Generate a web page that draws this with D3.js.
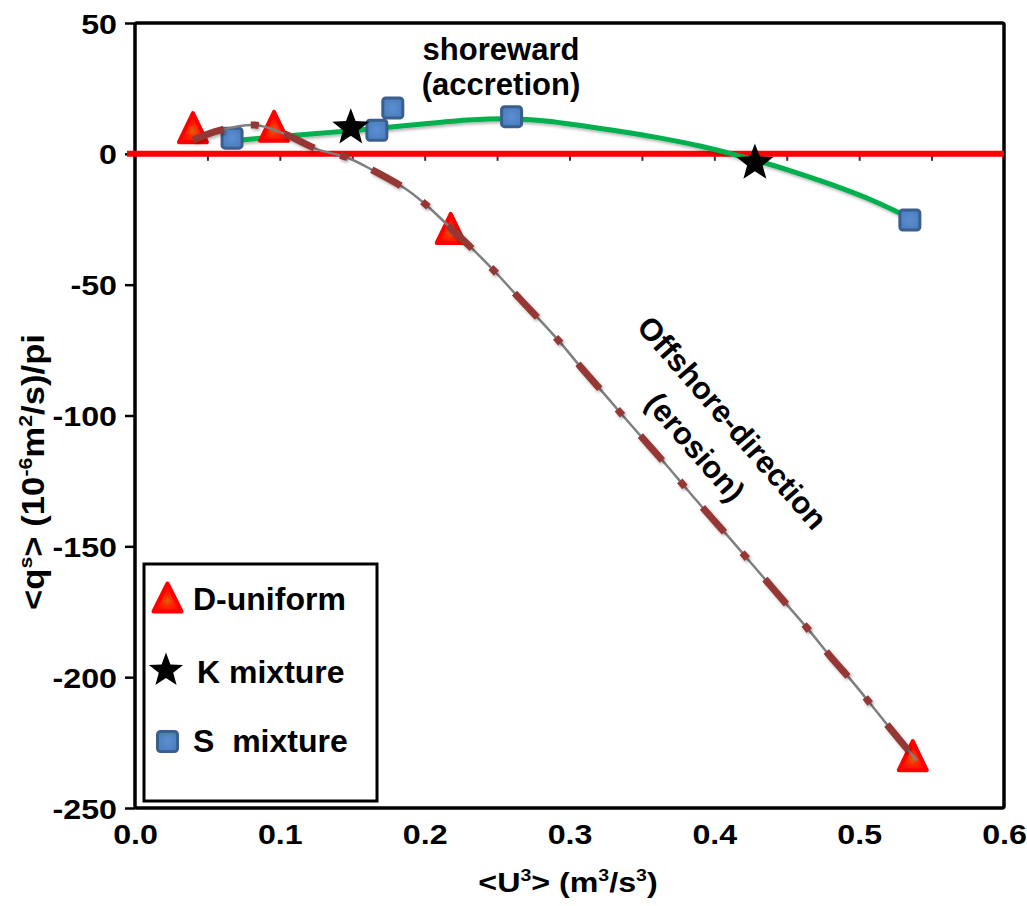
<!DOCTYPE html>
<html>
<head>
<meta charset="utf-8">
<script src="https://cdn.jsdelivr.net/npm/d3@7"></script>
<style>
  html, body { margin: 0; padding: 0; background: #ffffff; }
  text { font-family: "Liberation Sans", Arial, sans-serif; font-weight: bold; fill: #000; }
</style>
</head>
<body>
<script>
// ---- measured series ----
const dUniformX = [0.040, 0.096, 0.218, 0.537];
const dUniformY = [10.0, 10.5, -28.5, -230.0];

const kMixtureX = [0.149, 0.428];
const kMixtureY = [10.0, -3.5];

const sMixtureX = [0.067, 0.167, 0.178, 0.260, 0.535];
const sMixtureY = [6.0, 9.0, 17.5, 14.2, -25.3];

// fitted trend through the S-mixture runs (green)
const sTrendX = [0.067, 0.100, 0.135, 0.170, 0.204, 0.230, 0.255, 0.280, 0.300, 0.330, 0.360, 0.390, 0.420, 0.450, 0.480, 0.510, 0.535];
const sTrendY = [5.0, 6.6, 8.2, 9.9, 11.7, 12.9, 13.4, 12.7, 11.4, 9.0, 6.3, 3.0, -1.2, -6.0, -11.6, -18.0, -24.5];

// fitted trend through the D-uniform runs (dash-dot)
const dTrendX = [0.040, 0.059, 0.083, 0.102, 0.127, 0.146, 0.164, 0.188, 0.203, 0.220, 0.237, 0.251, 0.265, 0.282, 0.295, 0.307, 0.322, 0.336, 0.351, 0.367, 0.380, 0.394, 0.410, 0.424, 0.438, 0.452, 0.466, 0.480, 0.495, 0.509, 0.522, 0.540];
const dTrendY = [5.3, 9.1, 11.0, 7.9, 1.5, -1.3, -6.2, -13.8, -20.5, -29.5, -38.5, -46.5, -55.0, -65.0, -73.0, -81.0, -90.5, -99.5, -109.0, -119.0, -127.5, -136.5, -146.5, -155.5, -164.5, -173.5, -182.5, -192.0, -201.5, -211.0, -220.0, -232.0];

// axis ticks
const xLabelTicks = [0.0, 0.1, 0.2, 0.3, 0.4, 0.5, 0.6];
const xMinorTicks = [0.05, 0.1, 0.15, 0.2, 0.25, 0.3, 0.35, 0.4, 0.45, 0.5, 0.55];
const yTicks = [50, 0, -50, -100, -150, -200, -250];

const legendLabels = ["D-uniform", "K mixture", "S  mixture"];

// ---- layout ----
const W = 1027, H = 906;
const plotL = 135, plotR = 1004, plotT = 23, plotB = 808;
const wide = 1.15; // horizontal widening of axis lettering

const svg = d3.select("body").append("svg")
  .attr("width", W).attr("height", H);

const defs = svg.append("defs");
const grad = defs.append("radialGradient").attr("id", "triFill")
  .attr("cx", "50%").attr("cy", "62%").attr("r", "55%");
grad.append("stop").attr("offset", "0%").attr("stop-color", "#e0600c");
grad.append("stop").attr("offset", "40%").attr("stop-color", "#ff2400");
grad.append("stop").attr("offset", "100%").attr("stop-color", "#ff0000");

const sq = defs.append("radialGradient").attr("id", "sqFill")
  .attr("cx", "50%").attr("cy", "50%").attr("r", "60%");
sq.append("stop").attr("offset", "0%").attr("stop-color", "#5a8fd2");
sq.append("stop").attr("offset", "100%").attr("stop-color", "#4a7cbc");

const shadow = defs.append("filter").attr("id", "soft")
  .attr("x", "-10%").attr("y", "-10%").attr("width", "120%").attr("height", "120%");
shadow.append("feDropShadow").attr("dx", 1.5).attr("dy", 2).attr("stdDeviation", 1.5)
  .attr("flood-color", "#000").attr("flood-opacity", 0.3);

const x = d3.scaleLinear().domain([0, 0.6]).range([plotL, plotR]);
const y = d3.scaleLinear().domain([-250, 50]).range([plotB, plotT]);

// ---- frame ----
svg.append("rect")
  .attr("x", plotL).attr("y", plotT)
  .attr("width", plotR - plotL).attr("height", plotB - plotT)
  .attr("rx", 2)
  .attr("fill", "none").attr("stroke", "#000").attr("stroke-width", 3.5);

// ---- y axis ----
const yAxis = svg.append("g")
  .attr("transform", `translate(${plotL},0)`)
  .call(d3.axisLeft(y).tickValues(yTicks).tickSize(10).tickFormat(d => String(d)));
yAxis.select(".domain").remove();
yAxis.selectAll(".tick line").attr("stroke", "#000").attr("stroke-width", 2.5);
yAxis.selectAll(".tick text")
  .attr("x", -18 / wide).attr("dy", "0.36em")
  .attr("transform", `scale(${wide},1)`)
  .style("font-size", "28px").style("font-family", "'Liberation Sans', Arial, sans-serif")
  .style("font-weight", "bold").attr("fill", "#000");

// ---- x axis: minor ticks sit on the zero line ----
const xZero = svg.append("g")
  .attr("transform", `translate(0,${y(0)})`)
  .call(d3.axisBottom(x).tickValues(xMinorTicks).tickSize(7).tickFormat(""));
xZero.select(".domain").remove();
xZero.selectAll(".tick line").attr("stroke", "#333").attr("stroke-width", 2);

// ---- x axis labels at the bottom ----
const xAxis = svg.append("g")
  .attr("transform", `translate(0,${plotB})`)
  .call(d3.axisBottom(x).tickValues(xLabelTicks).tickSize(0).tickPadding(16).tickFormat(d3.format(".1f")));
xAxis.select(".domain").remove();
xAxis.selectAll(".tick text")
  .attr("transform", `scale(${wide},1)`)
  .style("font-size", "28px").style("font-family", "'Liberation Sans', Arial, sans-serif")
  .style("font-weight", "bold").attr("fill", "#000");

// ---- axis titles ----
function addSupText(sel, parts, supSize, shift) {
  parts.forEach((p, i) => {
    const t = sel.append("tspan").text(p.t);
    if (p.sup) t.attr("dy", -shift).style("font-size", supSize + "px");
    else if (i > 0 && parts[i - 1].sup) t.attr("dy", shift);
  });
}

const xTitle = svg.append("text")
  .attr("transform", `translate(568,892) scale(${wide},1)`)
  .attr("text-anchor", "middle")
  .style("font-size", "28px");
addSupText(xTitle, [
  { t: "<U" }, { t: "3", sup: true }, { t: "> (m" }, { t: "3", sup: true },
  { t: "/s" }, { t: "3", sup: true }, { t: ")" }
], 17, 11);

const yTitle = svg.append("text")
  .attr("transform", "translate(44,472) rotate(-90) scale(1.12,1)")
  .attr("text-anchor", "middle")
  .style("font-size", "31px");
addSupText(yTitle, [
  { t: "<q" }, { t: "s", sup: true }, { t: "> (10" }, { t: "-6", sup: true },
  { t: "m" }, { t: "2", sup: true }, { t: "/s)/pi" }
], 19, 12);

// ---- zero line ----
svg.append("line")
  .attr("x1", plotL - 8).attr("x2", plotR)
  .attr("y1", y(0)).attr("y2", y(0))
  .attr("stroke", "#ff0000").attr("stroke-width", 6);

// ---- marker shapes ----
function trianglePath(w, h) {
  return `M0,${-h / 2}L${w / 2},${h / 2}L${-w / 2},${h / 2}Z`;
}
function starPath(R, r) {
  const pts = [];
  for (let i = 0; i < 10; i++) {
    const a = -Math.PI / 2 + i * Math.PI / 5;
    const rad = i % 2 === 0 ? R : r;
    pts.push([rad * Math.cos(a), rad * Math.sin(a)]);
  }
  return "M" + pts.map(p => p[0].toFixed(2) + "," + p[1].toFixed(2)).join("L") + "Z";
}
function drawTriangle(g, cx, cy, w, h) {
  g.append("path").attr("d", trianglePath(w - 4, h - 4))
    .attr("transform", `translate(${cx},${cy})`)
    .attr("fill", "url(#triFill)").attr("stroke", "#ff0000")
    .attr("stroke-width", 4).attr("stroke-linejoin", "round");
}
function drawStar(g, cx, cy, R) {
  g.append("path").attr("d", starPath(R, R * 0.42))
    .attr("transform", `translate(${cx},${cy})`)
    .attr("fill", "#000");
}
function drawSquare(g, cx, cy, s) {
  g.append("rect")
    .attr("x", cx - s / 2 + 1.5).attr("y", cy - s / 2 + 1.5)
    .attr("width", s - 3).attr("height", s - 3).attr("rx", 3)
    .attr("fill", "url(#sqFill)").attr("stroke", "#3a5f8e").attr("stroke-width", 3);
}

// ---- green trend ----
const sTrend = sTrendX.map((v, i) => [v, sTrendY[i]]);
const line = d3.line().x(d => x(d[0])).y(d => y(d[1])).curve(d3.curveCatmullRom.alpha(0.5));
svg.append("path").attr("d", line(sTrend))
  .attr("fill", "none").attr("stroke", "#00b050").attr("stroke-width", 5)
  .attr("stroke-linecap", "round").attr("filter", "url(#soft)");

// ---- markers ----
const marks = svg.append("g");
sMixtureX.forEach((v, i) => drawSquare(marks, x(v), y(sMixtureY[i]), 23));
kMixtureX.forEach((v, i) => drawStar(marks, x(v), y(kMixtureY[i]), 19.5));
dUniformX.forEach((v, i) => drawTriangle(marks, x(v), y(dUniformY[i]), 32, 33));

// ---- dash-dot trend for D-uniform ----
const dTrend = dTrendX.map((v, i) => [v, dTrendY[i]]);
const dLine = d3.line().x(d => x(d[0])).y(d => y(d[1])).curve(d3.curveCatmullRom.alpha(0.5));
svg.append("path").attr("d", dLine(dTrend))
  .attr("fill", "none").attr("stroke", "#7f7f7f").attr("stroke-width", 2.5);
svg.append("path").attr("d", dLine(dTrend))
  .attr("fill", "none").attr("stroke", "#953735").attr("stroke-width", 7)
  .attr("stroke-dasharray", "33,27,8,27").attr("filter", "url(#soft)");

// ---- annotations ----
const shore = svg.append("text").attr("text-anchor", "middle").style("font-size", "31px");
shore.append("tspan").attr("x", 501).attr("y", 60).text("shoreward");
shore.append("tspan").attr("x", 501).attr("y", 95).text("(accretion)");

const off = svg.append("g").attr("transform", "translate(716,437) rotate(49)");
off.append("text").attr("text-anchor", "middle").attr("y", -11).style("font-size", "31px").text("Offshore-direction");
off.append("text").attr("text-anchor", "middle").attr("y", 33).attr("x", -6).style("font-size", "31px").text("(erosion)");

// ---- legend ----
const legend = svg.append("g");
legend.append("rect")
  .attr("x", 144).attr("y", 564).attr("width", 233).attr("height", 237)
  .attr("fill", "#fff").attr("stroke", "#000").attr("stroke-width", 3);
drawTriangle(legend, 167.5, 597.5, 32, 32);
drawStar(legend, 166, 670.5, 18);
drawSquare(legend, 167.5, 741.5, 23);
const legendPos = [[193, 610], [197, 683], [193, 752]];
legendLabels.forEach((t, i) => {
  legend.append("text")
    .attr("x", legendPos[i][0]).attr("y", legendPos[i][1])
    .attr("xml:space", "preserve").style("white-space", "pre")
    .style("font-size", "32px").text(t);
});
</script>
</body>
</html>
